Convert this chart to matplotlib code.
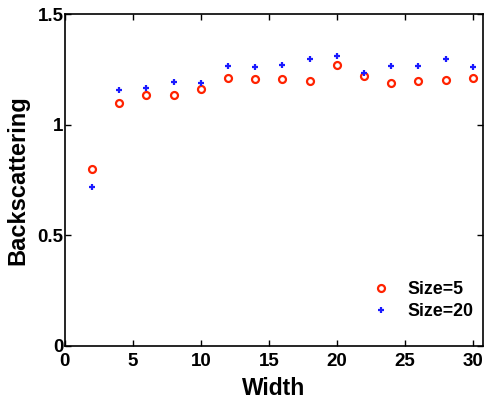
import matplotlib
matplotlib.use('Agg')
import matplotlib.pyplot as plt

plt.rcParams['font.family'] = ['Liberation Sans', 'DejaVu Sans']
plt.rcParams['font.weight'] = 'bold'

widths = [2, 4, 6, 8, 10, 12, 14, 16, 18, 20, 22, 24, 26, 28, 30]
size5 = [0.80, 1.098, 1.136, 1.134, 1.160, 1.212, 1.206, 1.206, 1.200, 1.268,
         1.222, 1.187, 1.200, 1.202, 1.212]
size20 = [0.72, 1.155, 1.164, 1.194, 1.187, 1.265, 1.259, 1.270, 1.297, 1.310,
          1.235, 1.264, 1.267, 1.296, 1.259]

fig = plt.figure(figsize=(4.84, 4.05), dpi=100)
ax = fig.add_axes([0.134, 0.146, 0.864, 0.819])

ax.plot(widths, size5, 'o', color='#ff2200', markerfacecolor='none',
        markersize=5, markeredgewidth=1.6, label='Size=5')
ax.plot(widths, size20, '+', color='#1a1aff', markersize=5,
        markeredgewidth=1.6, label='Size=20')

ax.set_xlim(0, 30.75)
ax.set_ylim(0, 1.5)
ax.set_xticks([0, 5, 10, 15, 20, 25, 30])
ax.set_yticks([0, 0.5, 1, 1.5])
ax.set_yticklabels(['0', '0.5', '1', '1.5'])
ax.tick_params(direction='in', top=True, right=True, labelsize=13.5, length=4, width=1)
ax.tick_params(axis='y', pad=1)
ax.tick_params(axis='x', pad=5)
for s in ax.spines.values():
    s.set_linewidth(1.2)

ax.set_xlabel('Width', fontsize=16.5, fontweight='bold', labelpad=5)
ax.set_ylabel('Backscattering', fontsize=17, fontweight='bold', labelpad=6)

ax.legend(loc='lower right', frameon=False, fontsize=12.8, handletextpad=0.9,
          handlelength=1.2, borderaxespad=0.5, labelspacing=0.25,
          bbox_to_anchor=(1.016, 0.03))

fig.savefig('out.png', dpi=100)
